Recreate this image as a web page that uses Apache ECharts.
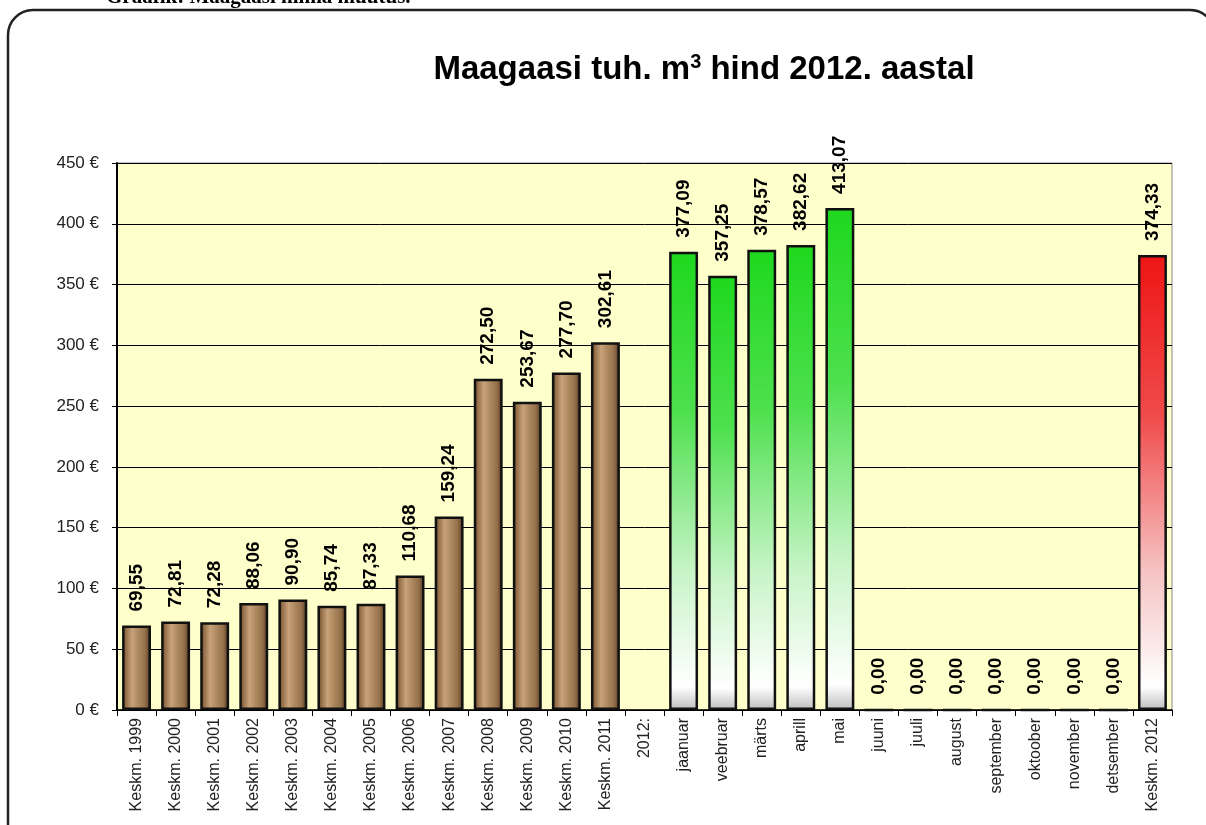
<!DOCTYPE html>
<html><head><meta charset="utf-8">
<script src="https://cdn.jsdelivr.net/npm/echarts@6/dist/echarts.min.js"></script>
<style>html,body{margin:0;padding:0;background:#fff}#c{width:1206px;height:825px}</style>
</head><body><div id="c"></div>
<script>
var categories = ['Keskm. 1999','Keskm. 2000','Keskm. 2001','Keskm. 2002','Keskm. 2003','Keskm. 2004','Keskm. 2005','Keskm. 2006','Keskm. 2007','Keskm. 2008','Keskm. 2009','Keskm. 2010','Keskm. 2011','2012:','jaanuar','veebruar','märts','aprill','mai','juuni','juuli','august','september','oktoober','november','detsember','Keskm. 2012'];
var values = [69.55,72.81,72.28,88.06,90.90,85.74,87.33,110.68,159.24,272.50,253.67,277.70,302.61,null,377.09,357.25,378.57,382.62,413.07,0,0,0,0,0,0,0,374.33];
var groups = ['y','y','y','y','y','y','y','y','y','y','y','y','y','-','m','m','m','m','m','m','m','m','m','m','m','m','a'];

var brown = {type:'linear',x:0,y:0,x2:1,y2:0,colorStops:[
  {offset:0,color:'#4e3620'},{offset:0.12,color:'#8f6a45'},{offset:0.35,color:'#c7a27a'},
  {offset:0.55,color:'#b08a60'},{offset:0.8,color:'#94704b'},{offset:1,color:'#4a321d'}]};
var green = {type:'linear',x:0,y:0,x2:0,y2:1,colorStops:[
  {offset:0,color:'#1ed81e'},{offset:0.35,color:'#4ee04e'},{offset:0.7,color:'#c8f4c8'},{offset:0.95,color:'#ffffff'},{offset:1,color:'#bdbdbd'}]};
var red = {type:'linear',x:0,y:0,x2:0,y2:1,colorStops:[
  {offset:0,color:'#ee1515'},{offset:0.35,color:'#f04a4a'},{offset:0.7,color:'#f6c4c4'},{offset:0.95,color:'#ffffff'},{offset:1,color:'#bdbdbd'}]};
var colorFor = {y:brown,m:green,a:red,'-':brown};

var data = values.map(function(v,i){
  return {value:v,itemStyle:{color:colorFor[groups[i]],borderColor:'#111',borderWidth:2.5}};
});

var chart = echarts.init(document.getElementById('c'));
chart.setOption({
  animation:false,
  backgroundColor:'#fff',
  graphic:[
    {type:'rect',shape:{x:8,y:10,width:1207,height:860,r:25},style:{fill:'none',stroke:'#222',lineWidth:2.5},z:-1},
    {type:'text',x:106,y:8,style:{text:'Graafik: Maagaasi hinna muutus.',font:'bold 21px "Liberation Serif", "Times New Roman", serif',fill:'#000',verticalAlign:'bottom'}}
  ],
  title:{
    text:'{a|Maagaasi tuh. m}{s|3}{a| hind 2012. aastal}',
    left:699, top:47, textAlign:'center',
    textStyle:{rich:{
      a:{fontFamily:'Liberation Sans, Arial',fontWeight:'bold',fontSize:33,color:'#000'},
      s:{fontFamily:'Liberation Sans, Arial',fontWeight:'bold',fontSize:20,color:'#000',verticalAlign:'top',padding:[0,0,15,0]}
    }}
  },
  grid:{left:117,right:34,top:163,bottom:115,show:true,backgroundColor:'#FFFFCC',borderColor:'#888',borderWidth:1},
  xAxis:{
    type:'category',data:categories,
    axisLine:{lineStyle:{color:'#000',width:1.5}},
    axisTick:{show:true,length:6,lineStyle:{color:'#000'}},
    axisLabel:{rotate:90,interval:0,fontFamily:'Liberation Sans, Arial',fontSize:16,color:'#222',margin:8}
  },
  yAxis:{
    type:'value',min:0,max:450,interval:50,
    axisLine:{show:true,lineStyle:{color:'#000',width:2}},
    axisTick:{show:true,length:5,lineStyle:{color:'#000'}},
    splitLine:{lineStyle:{color:'#000',width:1}},
    axisLabel:{formatter:function(v){return v+' €';},fontFamily:'Liberation Sans, Arial',fontSize:17,color:'#222',margin:18}
  },
  series:[{
    type:'bar',data:data,barCategoryGap:'26%',
    label:{show:true,position:'top',rotate:90,align:'left',verticalAlign:'middle',distance:14,
      fontFamily:'Liberation Sans, Arial',fontWeight:'bold',fontSize:19,color:'#000',
      formatter:function(p){return p.value==null?'':p.value.toFixed(2).replace('.',',');}}
  }]
});
</script></body></html>
